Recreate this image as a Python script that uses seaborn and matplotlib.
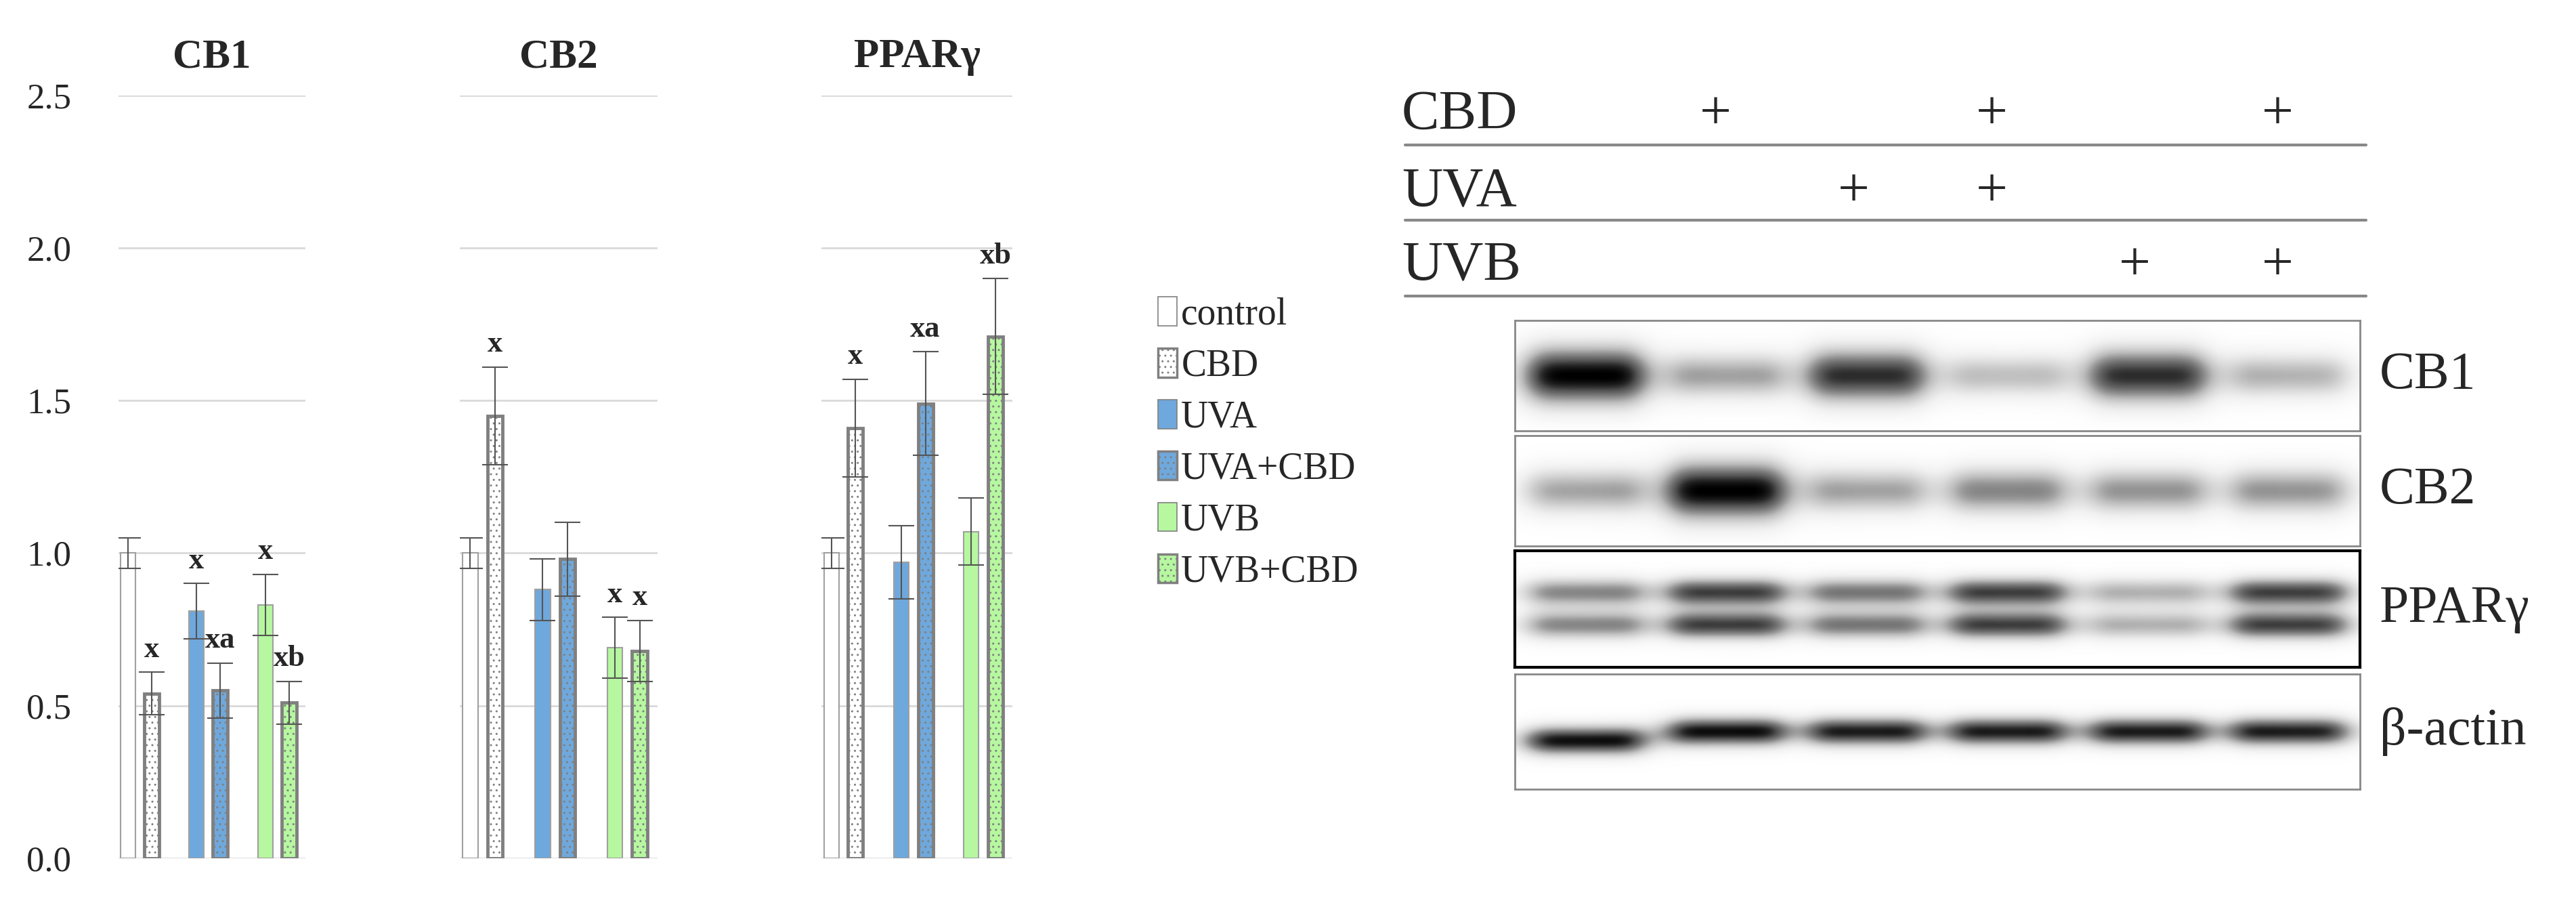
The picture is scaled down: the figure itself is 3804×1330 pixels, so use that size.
import numpy as np
import pandas as pd
import matplotlib
matplotlib.use('Agg')
import matplotlib.pyplot as plt
import matplotlib.patches as mpatches
import seaborn as sns

# bar chart data
groups = ['control', 'CBD', 'UVA', 'UVA+CBD', 'UVB', 'UVB+CBD']
targets = ['CB1', 'CB2', 'PPARγ']
means = {
    'CB1': [1.00, 0.54, 0.81, 0.55, 0.83, 0.51],
    'CB2': [1.00, 1.45, 0.88, 0.98, 0.69, 0.68],
    'PPARγ': [1.00, 1.41, 0.97, 1.49, 1.07, 1.71],
}
errors = {
    'CB1': [0.05, 0.07, 0.09, 0.09, 0.10, 0.07],
    'CB2': [0.05, 0.16, 0.10, 0.12, 0.10, 0.10],
    'PPARγ': [0.05, 0.16, 0.12, 0.17, 0.11, 0.19],
}
letters = {
    'CB1': ['', 'x', 'x', 'xa', 'x', 'xb'],
    'CB2': ['', 'x', '', '', 'x', 'x'],
    'PPARγ': ['', 'x', '', 'xa', '', 'xb'],
}
bar_pos = [0, 1, 2.9, 3.9, 5.8, 6.8]
face = ['white', 'white', '#6fa8dc', '#6fa8dc', '#b6f7a0', '#b6f7a0']
cbd_flag = [False, True, False, True, False, True]

# western blot band intensities (0-1)
lane_cbd = ['', '+', '', '+', '', '+']
lane_uva = ['', '', '+', '+', '', '']
lane_uvb = ['', '', '', '', '+', '+']
blot_names = ['CB1', 'CB2', 'PPARγ', 'β-actin']
blot_cb1 = [1.00, 0.45, 0.85, 0.35, 0.85, 0.40]
blot_cb2 = [0.45, 1.00, 0.45, 0.55, 0.50, 0.50]
blot_ppar = [0.55, 0.80, 0.60, 0.80, 0.40, 0.80]
blot_actin = [0.95, 0.95, 0.90, 0.90, 0.90, 0.90]

sns.set_style('white')
plt.rcParams['font.family'] = ['Liberation Serif', 'DejaVu Serif']
plt.rcParams['hatch.color'] = '#404040'

W, H = 1568, 548  # layout reference grid
fig = plt.figure(figsize=(38.05, 13.3), dpi=100)


def fx(x):
    return x / W


def fy(y):
    return 1 - y / H


panel_x = [(72, 186), (280, 400), (500, 616)]
for k, t in enumerate(targets):
    x0, x1 = panel_x[k]
    ax = fig.add_axes([fx(x0), fy(522), fx(x1 - x0), fy(58) - fy(522)])
    df = pd.DataFrame({'pos': bar_pos, 'val': means[t], 'err': errors[t]})
    for i, row in df.iterrows():
        ax.bar(row['pos'], row['val'], width=0.62, color=face[i],
               edgecolor='#808080' if cbd_flag[i] else '#a0a0a0',
               linewidth=3.5 if cbd_flag[i] else 1.5,
               hatch='..' if cbd_flag[i] else None, zorder=2)
        ax.errorbar(row['pos'], row['val'], yerr=row['err'], color='#555555',
                    capsize=14, elinewidth=1.5, capthick=1.5, zorder=3)
        if letters[t][i]:
            ax.text(row['pos'], row['val'] + row['err'] + 0.03, letters[t][i],
                    ha='center', va='bottom', fontsize=32, fontweight='bold')
    ax.set_xlim(-0.4, 7.5)
    ax.set_ylim(0, 2.5)
    ax.set_yticks(np.arange(0, 2.51, 0.5))
    ax.yaxis.grid(True, color='#d9d9d9', linewidth=2, zorder=0)
    ax.set_xticks([])
    sns.despine(ax=ax, left=True, bottom=True)
    if k == 0:
        ax.set_yticklabels([f'{v:.1f}' for v in np.arange(0, 2.51, 0.5)], fontsize=38)
        ax.tick_params(axis='y', length=0, pad=50)
    else:
        ax.set_yticklabels([])
        ax.tick_params(axis='y', length=0)
    ax.set_title(t, fontsize=44, fontweight='bold', pad=30)

# legend
handles = [mpatches.Patch(facecolor=face[i], edgecolor='#808080',
                          hatch='..' if cbd_flag[i] else None,
                          linewidth=2.5 if cbd_flag[i] else 1.2, label=g)
           for i, g in enumerate(groups)]
fig.legend(handles=handles, loc='upper left', bbox_to_anchor=(fx(684), fy(160)),
           frameon=False, fontsize=40, handlelength=0.5, handleheight=0.8,
           handletextpad=0.12, labelspacing=0.42)

# treatment table
lanes_x = [969, 1056, 1140, 1224, 1311, 1398]
rows = [('CBD', lane_cbd, 70, 88), ('UVA', lane_uva, 117, 134), ('UVB', lane_uvb, 162, 180)]
for name, marks, ty, ly in rows:
    fig.text(fx(853), fy(ty), name, fontsize=60, va='center', ha='left')
    for lx, m in zip(lanes_x, marks):
        if m:
            fig.text(fx(lx - 12), fy(ty), m, fontsize=60, va='center', ha='center')
    fig.add_artist(plt.Line2D([fx(855), fx(1440)], [fy(ly), fy(ly)],
                              color='#888888', linewidth=3))

# blot strips
strip_y = [(195, 262), (265, 332), (335, 406), (410, 480)]
strip_vals = [blot_cb1, blot_cb2, blot_ppar, blot_actin]
nx, ny = 600, 80
xx = np.linspace(0, 6, nx)
yy = np.linspace(0, 1, ny)
X, Y = np.meshgrid(xx, yy)
for j, (name, vals) in enumerate(zip(blot_names, strip_vals)):
    y0, y1 = strip_y[j]
    ax = fig.add_axes([fx(922), fy(y1), fx(1436 - 922), fy(y0) - fy(y1)])
    img = np.zeros_like(X)
    for i, v in enumerate(vals):
        cx = i + 0.5
        px = 1 / (1 + ((X - cx) / 0.42) ** 6)
        if j == 2:
            py = np.exp(-((Y - 0.36) / 0.12) ** 2) + np.exp(-((Y - 0.64) / 0.12) ** 2)
        elif j == 3:
            py = np.exp(-((Y - 0.5 - 0.08 * (i == 0)) / 0.12) ** 2)
        else:
            py = np.exp(-((Y - 0.5) / (0.15 + 0.1 * v)) ** 2)
        img += v * px * py
    ax.imshow(np.clip(img, 0, 1), cmap='Greys', vmin=0, vmax=1.0, aspect='auto',
              interpolation='bilinear')
    ax.set_xticks([])
    ax.set_yticks([])
    for s in ax.spines.values():
        s.set_visible(True)
        s.set_color('black' if j == 2 else '#888888')
        s.set_linewidth(3 if j == 2 else 2)
    fig.text(fx(1448), fy((y0 + y1) / 2), name, fontsize=56, va='center', ha='left')

fig.savefig('out.png', dpi=100, facecolor='white')
